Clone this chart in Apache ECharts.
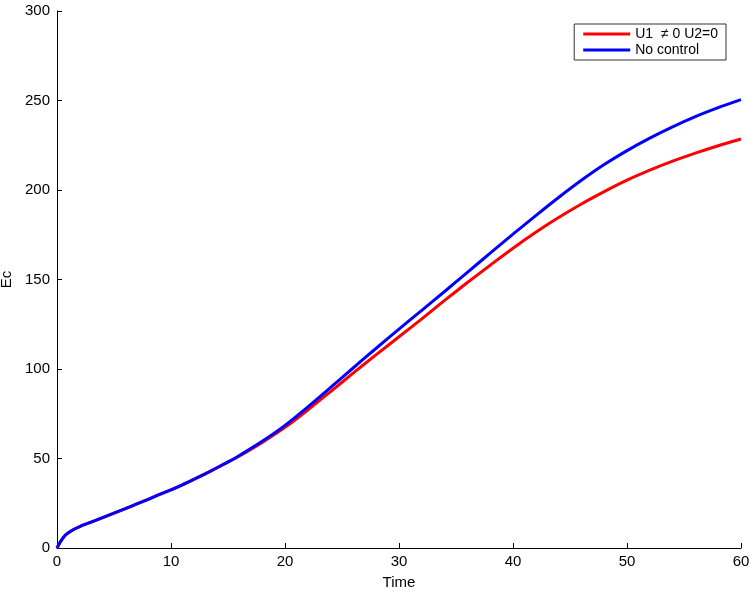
<!DOCTYPE html>
<html>
<head>
<meta charset="utf-8">
<script src="https://cdn.jsdelivr.net/npm/echarts@6/dist/echarts.min.js"></script>
<style>html,body{margin:0;padding:0;background:#fff}#c{width:750px;height:592px}</style>
</head>
<body>
<div id="c"></div>
<script>
var timeRed = [0,0.3,0.7,1,1.5,2,3,4,5,6,7,8,9,10,11,12,13,14,15,16,18,20,22,24,26,28,30,32,34,36,38,40,42,44,46,48,50,52,54,56,58,60];
var valRed  = [0,3.5,7,8.5,10.5,12,14.5,17,19.5,22,24.6,27.2,29.9,32.5,35.3,38.3,41.4,44.7,48,51.4,59,67.4,77.1,87.4,97.8,108,118,128,138.3,148.3,158,167.5,176.4,184.6,192.2,199.1,205.5,211.1,216.1,220.6,224.7,228.5];
var timeBlue = [0,0.3,0.7,1,1.5,2,3,4,5,6,7,8,9,10,11,12,13,14,15,16,18,20,22,24,26,28,30,32,34,36,38,40,42,44,46,48,50,52,54,56,58,60];
var valBlue  = [0,3.5,7,8.5,10.5,12,14.5,17,19.5,22,24.6,27.2,29.9,32.5,35.3,38.3,41.4,44.7,48.1,51.7,59.6,68.5,78.8,89.7,100.7,111.6,122.3,132.8,143.3,154,164.7,175.3,185.7,195.8,205.4,214.2,222,229,235.3,241,246,250.5];
var nameRed = 'U1  \u2260 0 U2=0';
var nameBlue = 'No control';

function pairs(t, v){ return t.map(function(x,i){return [x, v[i]];}); }

var chart = echarts.init(document.getElementById('c'));
var font = 'Liberation Sans, Arial, Helvetica, sans-serif';
chart.setOption({
  animation: false,
  backgroundColor: '#fff',
  textStyle: {fontFamily: font},
  grid: {left: 57, right: 9, top: 11, bottom: 44, containLabel: false, outerBoundsMode: 'none'},
  legend: {
    orient: 'vertical', right: 24, top: 24,
    backgroundColor: '#fff', borderColor: '#333', borderWidth: 1,
    padding: [3, 8, 3, 9], itemGap: 2,
    itemWidth: 47, itemHeight: 3, icon: 'rect',
    textStyle: {fontFamily: font, fontSize: 14, color: '#000', padding: [0,0,0,0]},
    data: [nameRed, nameBlue]
  },
  xAxis: {
    type: 'value', min: 0, max: 60, interval: 10,
    name: 'Time', nameLocation: 'middle', nameGap: 27,
    nameTextStyle: {fontFamily: font, fontSize: 15, color: '#000'},
    axisLine: {lineStyle: {color: '#000', width: 1}},
    axisTick: {inside: true, length: 5, lineStyle: {color: '#000'}},
    axisLabel: {fontFamily: font, fontSize: 15, color: '#000', margin: 6},
    splitLine: {show: false}
  },
  yAxis: {
    type: 'value', min: 0, max: 300, interval: 50,
    name: 'Ec', nameLocation: 'middle', nameGap: 36, nameRotate: 90,
    nameTextStyle: {fontFamily: font, fontSize: 15, color: '#000'},
    axisLine: {show: true, lineStyle: {color: '#000', width: 1}},
    axisTick: {show: true, inside: true, length: 5, lineStyle: {color: '#000'}},
    axisLabel: {fontFamily: font, fontSize: 15, color: '#000', margin: 7},
    splitLine: {show: false}
  },
  series: [
    {name: nameRed, type: 'line', data: pairs(timeRed, valRed), showSymbol: false, smooth: 0.3,
     lineStyle: {color: '#ff0000', width: 3}, itemStyle: {color: '#ff0000'}},
    {name: nameBlue, type: 'line', data: pairs(timeBlue, valBlue), showSymbol: false, smooth: 0.3,
     lineStyle: {color: '#0000ff', width: 3}, itemStyle: {color: '#0000ff'}}
  ]
});
</script>
</body>
</html>
